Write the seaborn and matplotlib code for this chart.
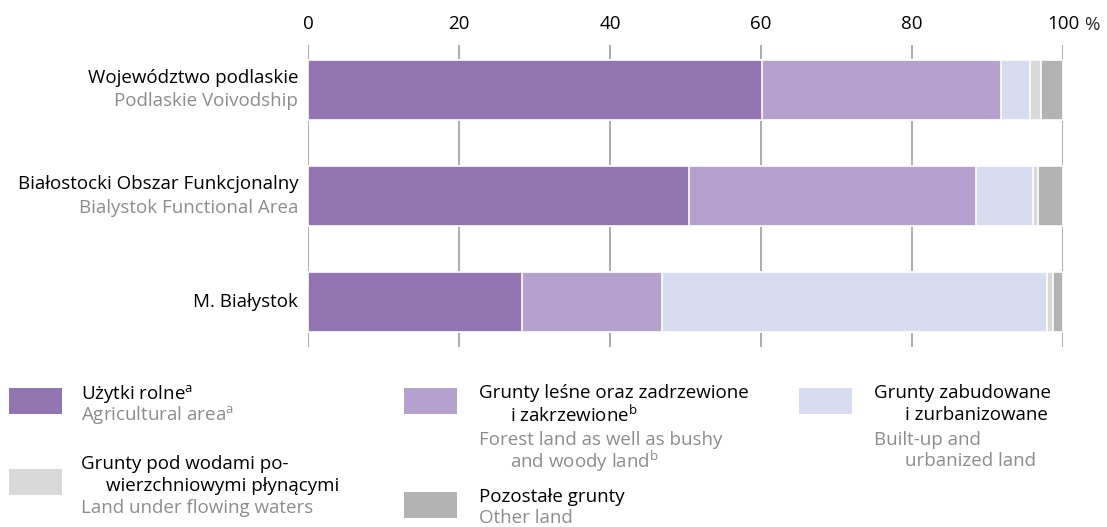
import numpy as np
import pandas as pd
import matplotlib
matplotlib.use('Agg')
import matplotlib.pyplot as plt
import seaborn as sns
from matplotlib.patches import Rectangle

# dane (%)
regiony_pl = ['Województwo podlaskie', 'Białostocki Obszar Funkcjonalny', 'M. Białystok']
regiony_en = ['Podlaskie Voivodship', 'Bialystok Functional Area', '']
uzytki_rolne = [60.1, 50.5, 28.3]
grunty_lesne = [31.7, 38.0, 18.6]
grunty_zabudowane = [3.8, 7.5, 51.0]
grunty_pod_wodami = [1.5, 0.7, 0.8]
pozostale = [2.9, 3.3, 1.3]
ticks = [0, 20, 40, 60, 80, 100]

kolory = ['#9274b0', '#b4a1cd', '#d8dcf0', '#d9d9d9', '#b2b2b2']
FS = 13.5

sns.set_style('white')
plt.rcParams['font.family'] = ['Open Sans', 'DejaVu Sans']
plt.rcParams['mathtext.fontset'] = 'custom'
plt.rcParams['mathtext.rm'] = 'Open Sans'
plt.rcParams['mathtext.it'] = 'Open Sans'

df = pd.DataFrame({
    'region': regiony_pl,
    'rolne': uzytki_rolne,
    'lesne': grunty_lesne,
    'zabud': grunty_zabudowane,
    'wody': grunty_pod_wodami,
    'pozost': pozostale,
})
warstwy = ['rolne', 'lesne', 'zabud', 'wody', 'pozost']
cum = df[warstwy].cumsum(axis=1)

fig = plt.figure(figsize=(11.07, 5.27), dpi=100)
W, H = 1107, 527
ax = fig.add_axes([308 / W, 1 - 347 / H, (1063 - 308) / W, (347 - 45) / H])

# skumulowane słupki - od najdłuższego do najkrótszego
for kol, kolor in reversed(list(zip(warstwy, kolory))):
    sns.barplot(x=cum[kol], y=df['region'], orient='h', color=kolor, saturation=1,
                width=0.565, edgecolor='white', linewidth=1.2, ax=ax, zorder=3)

ax.set_xlim(0, 100)
ax.set_ylim(2.42, -0.42)
ax.set_xticks(ticks)
ax.xaxis.tick_top()
ax.tick_params(axis='x', length=0, pad=9, labelsize=FS, colors='black')
ax.set_yticks([])
ax.set_xlabel('')
ax.set_ylabel('')
for s in ax.spines.values():
    s.set_visible(False)
for t in ticks:
    ax.axvline(t, color='#ababab', lw=1.4, zorder=1)
fig.text(1084 / W, 1 - 25 / H, '%', fontsize=FS, ha='left', va='center')

# etykiety regionów
for i, (pl, en) in enumerate(zip(regiony_pl, regiony_en)):
    if en:
        ax.text(-1.3, i - 0.11, pl, ha='right', va='center', fontsize=FS, color='black')
        ax.text(-1.3, i + 0.11, en, ha='right', va='center', fontsize=FS, color='#8c8c8c')
    else:
        ax.text(-1.3, i, pl, ha='right', va='center', fontsize=FS, color='black')

# legenda
def sw(x, y, kolor):
    fig.add_artist(Rectangle((x / W, 1 - (y + 26) / H), 53 / W, 26 / H,
                             facecolor=kolor, edgecolor='none', transform=fig.transFigure))

def tx(x, y, s, kolor='black'):
    fig.text(x / W, 1 - y / H, s, ha='left', va='center', fontsize=FS, color=kolor)

sw(9, 388, kolory[0])
tx(81, 394, r'Użytki rolne$^{\mathrm{a}}$')
tx(81, 415, r'Agricultural area$^{\mathrm{a}}$', '#8c8c8c')

sw(9, 469, kolory[3])
tx(81, 464, 'Grunty pod wodami po-')
tx(106, 486, 'wierzchniowymi płynącymi')
tx(81, 508, 'Land under flowing waters', '#8c8c8c')

sw(404, 388, kolory[1])
tx(479, 393, 'Grunty leśne oraz zadrzewione')
tx(510, 415, r'i zakrzewione$^{\mathrm{b}}$')
tx(479, 440, 'Forest land as well as bushy', '#8c8c8c')
tx(510, 461, r'and woody land$^{\mathrm{b}}$', '#8c8c8c')

sw(404, 492, kolory[4])
tx(479, 497, 'Pozostałe grunty')
tx(479, 518, 'Other land', '#8c8c8c')

sw(799, 388, kolory[2])
tx(874, 393, 'Grunty zabudowane')
tx(905, 415, 'i zurbanizowane')
tx(874, 440, 'Built-up and', '#8c8c8c')
tx(905, 461, 'urbanized land', '#8c8c8c')

fig.savefig('out.png', dpi=100)
